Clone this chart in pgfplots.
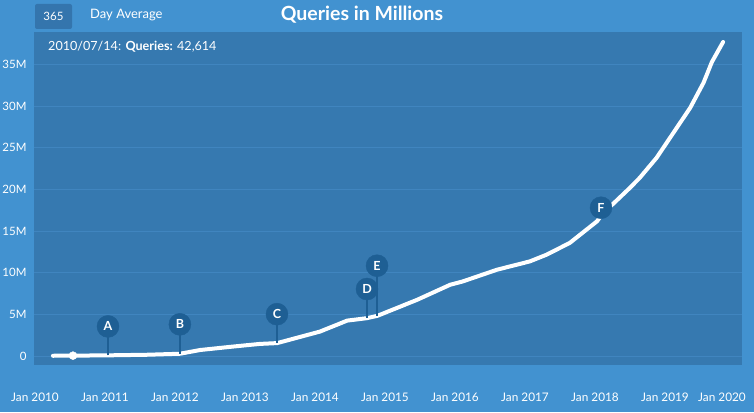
\documentclass[border=0pt]{standalone}
\usepackage{pgfplots}
\usepackage{pgfplotstable}
\pgfplotsset{compat=1.18}
\usepackage{fontspec}
\setmainfont{Lato}
\definecolor{outerbg}{HTML}{4292D0}
\definecolor{plotbg}{HTML}{3679B0}
\definecolor{gridc}{HTML}{4085BF}
\definecolor{flagc}{HTML}{1E5F94}
\definecolor{boxc}{HTML}{3475AD}

\pgfplotstableread{
x y
2010.257 0.03
2010.543 0.043
2011.043 0.08
2011.6 0.15
2012.07 0.27
2012.36 0.72
2012.79 1.1
2013.21 1.45
2013.46 1.55
2014.07 2.93
2014.46 4.25
2014.74 4.54
2014.89 4.82
2015.46 6.75
2015.93 8.55
2016.11 8.95
2016.6 10.36
2017.07 11.36
2017.31 12.17
2017.64 13.58
2018.03 16.18
2018.1 17.0
2018.5 20.2
2018.64 21.4
2018.88 23.8
2019.12 26.8
2019.36 29.8
2019.55 32.8
2019.67 35.3
2019.83 37.7
}\querydata

\pgfplotstableread{
x ybase ytop lab
2011.043 0.08 3.55 A
2012.07 0.27 3.8 B
2013.457 1.55 5.02 C
2014.743 4.54 8.04 D
2014.886 4.82 10.84 E
2018.086 16.9 17.8 F
}\flagdata

\begin{document}
\begin{tikzpicture}
\fill[outerbg] (0,0) rectangle (754pt,412pt);
\begin{axis}[
  at={(34pt,47pt)}, anchor=south west,
  scale only axis, width=708pt, height=333pt,
  xmin=2009.986, xmax=2020.1,
  ymin=-1.08, ymax=38.9,
  axis background/.style={fill=plotbg},
  axis line style={draw=none},
  tick style={draw=none},
  xtick={2010,2011,...,2019},
  xticklabels={Jan 2010,Jan 2011,Jan 2012,Jan 2013,Jan 2014,Jan 2015,Jan 2016,Jan 2017,Jan 2018,Jan 2019},
  extra x ticks={2020},
  extra x tick labels={Jan 2020},
  extra x tick style={xticklabel style={xshift=-13pt}, grid=none},
  xticklabel style={font=\fontsize{11.8}{13}\selectfont, text=white, yshift=-24pt},
  ytick={0,5,...,35},
  yticklabels={0,5M,10M,15M,20M,25M,30M,35M},
  yticklabel style={font=\fontsize{11.5}{13}\selectfont, text=white, anchor=east, xshift=-4pt},
  ymajorgrids, grid style={gridc, line width=1pt},
  /pgf/number format/assume math mode=true,
  clip=false,
]
\addplot[white, line width=4pt, line join=round, line cap=round] table[x=x,y=y]{\querydata};
\addplot[only marks, mark=*, mark size=4pt, mark options={fill=white, draw=white}] coordinates {(2010.543,0.043)};
\addplot[flagc, line width=2pt] coordinates {(2011.043,0.08) (2011.043,3.55)};
\addplot[flagc, line width=2pt] coordinates {(2012.07,0.27) (2012.07,3.8)};
\addplot[flagc, line width=2pt] coordinates {(2013.457,1.55) (2013.457,5.02)};
\addplot[flagc, line width=2pt] coordinates {(2014.743,4.54) (2014.743,8.04)};
\addplot[flagc, line width=2pt] coordinates {(2014.886,4.82) (2014.886,10.84)};
\addplot[flagc, only marks, mark=*, mark size=11pt, mark options={fill=flagc, draw=flagc},
  point meta=explicit symbolic,
  nodes near coords={\pgfplotspointmeta},
  every node near coord/.style={anchor=center, text=white, font=\bfseries\fontsize{12.5}{14}\selectfont}]
  table[x=x,y=ytop,meta=lab]{\flagdata};
\end{axis}
\fill[boxc, rounded corners=2pt] (35pt,383pt) rectangle (72pt,408pt);
\node[text=white, font=\fontsize{11.5}{13}\selectfont] at (53.5pt,395.5pt) {365};
\node[text=white, font=\fontsize{13}{15}\selectfont, anchor=west, inner sep=0pt] at (90pt,397pt) {Day Average};
\node[text=white, font=\bfseries\fontsize{19.5}{22}\selectfont] at (362pt,397pt) {Queries in Millions};
\node[text=white, font=\fontsize{12.6}{15}\selectfont, anchor=west, inner sep=0pt] at (48pt,365pt) {2010/07/14: \textbf{Queries:} 42,614};
\pgfresetboundingbox
\path[use as bounding box] (0,0) rectangle (754pt,412pt);
\end{tikzpicture}
\end{document}
